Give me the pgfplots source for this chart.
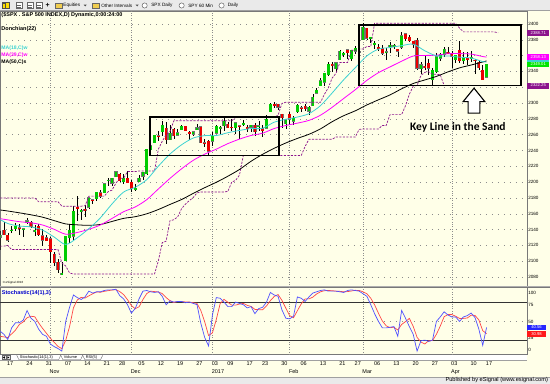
\documentclass[border=0pt]{standalone}
\usepackage{pgfplots}
\usepackage{pgfplotstable}
\pgfplotsset{compat=1.18}
\usepackage{fontspec}
\setmainfont{Liberation Sans}
\newfontfamily\carlito{Carlito}
\definecolor{cream}{RGB}{255,255,232}
\definecolor{tbgray}{RGB}{234,234,234}
\definecolor{cgreen}{RGB}{0,205,0}
\definecolor{cred}{RGB}{235,0,0}
\definecolor{macyan}{RGB}{60,210,210}
\definecolor{mamag}{RGB}{255,0,255}
\definecolor{dpurple}{RGB}{140,20,140}
\definecolor{stblue}{RGB}{80,80,255}
\definecolor{stred}{RGB}{255,70,70}
\definecolor{gridc}{RGB}{140,140,140}
\definecolor{sepc}{RGB}{120,120,120}
\definecolor{folder}{RGB}{240,205,80}
\newcommand{\fsz}[1]{\fontsize{#1}{#1}\selectfont}

\pgfplotstableread{
i o h l c
-2 2130.26 2138.19 2114.72 2132.55
1 2138.31 2144.38 2135.49 2139.60
2 2140.81 2148.44 2138.15 2144.29
4 2139.43 2142.63 2130.09 2141.16
5 2148.50 2154.79 2146.91 2151.33
7 2136.97 2145.73 2131.59 2139.43
14 2083.79 2099.07 2083.79 2085.18
15 2100.59 2132.00 2100.59 2131.52
16 2129.92 2146.87 2123.56 2139.56
17 2131.56 2170.10 2125.35 2163.26
19 2162.71 2165.92 2152.49 2164.45
21 2168.29 2180.84 2166.38 2180.39
23 2178.61 2188.06 2176.65 2187.12
25 2186.43 2198.70 2186.43 2198.18
26 2201.56 2204.80 2194.51 2202.94
27 2198.55 2204.72 2194.51 2204.72
28 2206.27 2213.35 2206.27 2213.35
30 2200.76 2210.46 2198.15 2204.66
33 2191.12 2197.95 2188.37 2191.95
34 2200.65 2209.42 2199.97 2204.71
35 2207.26 2212.78 2202.21 2212.23
36 2210.72 2241.63 2208.93 2241.35
37 2241.13 2251.69 2237.57 2246.19
38 2249.73 2259.80 2249.23 2259.53
40 2263.32 2277.53 2257.90 2271.72
42 2253.77 2272.12 2253.77 2262.03
44 2259.24 2267.02 2258.21 2262.53
45 2266.50 2272.56 2266.14 2270.76
48 2260.25 2263.79 2258.84 2263.79
49 2266.23 2273.82 2266.15 2268.88
53 2251.57 2263.88 2245.13 2257.83
54 2261.60 2272.82 2261.60 2270.75
55 2268.18 2271.50 2260.45 2269.00
56 2271.14 2282.10 2264.06 2276.98
59 2268.60 2275.32 2260.83 2275.32
61 2272.74 2278.68 2271.51 2274.64
63 2269.14 2272.01 2263.35 2271.89
65 2269.96 2276.96 2265.01 2271.31
67 2267.88 2284.63 2266.68 2280.07
68 2288.88 2299.55 2288.88 2298.37
72 2274.02 2279.09 2267.21 2278.87
74 2276.69 2283.97 2271.65 2280.85
75 2288.54 2298.31 2287.88 2297.42
78 2289.55 2295.91 2285.38 2294.67
79 2296.70 2311.08 2296.61 2307.87
80 2312.27 2319.23 2311.10 2316.10
81 2321.72 2331.58 2321.42 2328.25
82 2326.12 2337.58 2322.17 2337.58
83 2335.58 2351.30 2334.81 2349.25
85 2343.01 2351.16 2339.58 2351.16
86 2354.91 2366.71 2354.91 2365.38
87 2361.11 2365.13 2358.34 2362.82
89 2355.73 2367.34 2352.87 2367.34
90 2365.23 2371.54 2361.87 2369.75
92 2380.13 2400.98 2380.13 2395.96
94 2380.92 2383.89 2375.39 2383.12
95 2375.23 2378.80 2367.98 2375.31
98 2363.49 2369.08 2354.54 2364.87
99 2372.52 2376.86 2363.04 2372.60
100 2371.56 2374.42 2368.52 2373.47
102 2370.34 2390.01 2368.94 2385.26
107 2343.00 2351.81 2336.45 2348.45
110 2329.11 2344.90 2322.25 2341.59
111 2339.79 2363.78 2337.63 2358.57
112 2356.54 2363.36 2352.94 2361.13
113 2361.31 2370.42 2358.58 2368.06
116 2354.76 2360.53 2350.72 2360.16
118 2353.79 2364.16 2348.90 2357.49
120 2357.16 2366.37 2351.50 2357.16
124 2332.62 2349.14 2332.51 2349.01
}\gcandles

\pgfplotstableread{
i o h l c
-1 2139.68 2149.19 2132.98 2133.04
0 2132.95 2135.61 2124.43 2126.50
3 2142.51 2147.18 2133.44 2141.34
6 2149.72 2151.44 2141.93 2143.16
8 2144.06 2147.13 2132.52 2133.04
9 2132.23 2140.72 2119.36 2126.41
10 2129.78 2133.25 2125.53 2126.15
11 2128.68 2131.07 2097.85 2111.72
12 2109.43 2111.76 2094.00 2097.94
13 2098.80 2102.56 2085.23 2088.66
18 2167.49 2182.30 2151.17 2167.48
20 2165.64 2171.36 2156.08 2164.20
22 2177.53 2179.22 2172.20 2176.94
24 2186.85 2189.89 2180.38 2181.90
29 2210.21 2211.14 2200.36 2201.72
31 2204.97 2214.10 2198.81 2198.81
32 2200.17 2202.60 2187.44 2191.08
39 2258.83 2264.03 2252.37 2256.96
41 2268.35 2276.20 2248.44 2253.28
43 2266.81 2268.05 2254.24 2258.07
46 2270.54 2271.23 2265.15 2265.18
47 2262.93 2264.61 2252.74 2260.96
50 2270.23 2271.31 2249.11 2249.92
51 2249.50 2254.51 2244.56 2249.26
52 2251.61 2253.58 2233.62 2238.83
57 2273.59 2275.49 2268.90 2268.90
58 2269.72 2279.27 2265.27 2268.90
60 2271.14 2271.78 2254.25 2270.44
62 2269.14 2272.08 2262.81 2267.89
64 2271.90 2274.33 2258.41 2263.69
66 2267.78 2271.78 2257.02 2265.20
69 2298.63 2300.99 2294.08 2296.68
70 2299.02 2299.02 2291.62 2294.69
71 2286.01 2286.01 2268.04 2280.90
73 2285.59 2289.14 2272.44 2279.55
76 2294.28 2296.18 2288.57 2292.56
77 2295.87 2299.40 2290.16 2293.08
84 2349.64 2351.31 2338.87 2347.22
88 2367.50 2368.26 2355.09 2363.81
91 2366.08 2367.79 2358.96 2363.64
93 2394.75 2394.75 2380.17 2381.92
96 2370.74 2375.12 2365.51 2368.39
97 2369.81 2373.64 2361.01 2362.98
101 2368.55 2368.55 2358.18 2365.45
103 2387.71 2388.71 2377.94 2381.38
104 2383.71 2385.71 2377.64 2378.25
105 2378.24 2378.64 2369.66 2373.47
106 2379.32 2381.93 2341.90 2344.02
108 2345.97 2358.92 2342.13 2345.96
109 2350.42 2356.22 2335.74 2343.98
114 2364.82 2370.35 2362.60 2362.72
115 2362.34 2365.87 2344.73 2358.84
117 2366.59 2378.36 2350.52 2352.95
119 2356.59 2364.24 2348.69 2355.54
121 2353.92 2355.22 2337.25 2353.78
122 2352.15 2352.72 2341.18 2344.93
123 2341.98 2348.35 2328.95 2328.95
}\rcandles

\pgfplotstableread{
i v
-3 2155.4
0 2147.7
3 2144.5
6 2143.4
9 2139.4
12 2130.6
15 2121.2
18 2129.7
21 2141.2
24 2155.0
27 2172.5
30 2187.5
33 2193.5
36 2203.2
39 2220.2
42 2235.5
45 2247.2
48 2255.7
51 2258.8
54 2258.9
57 2262.5
60 2265.4
63 2267.7
66 2268.2
69 2275.8
72 2279.5
75 2282.3
78 2286.6
81 2296.8
84 2312.7
87 2329.5
90 2344.7
93 2359.6
96 2368.2
99 2370.2
102 2372.6
105 2374.4
108 2366.1
111 2359.7
114 2359.6
117 2358.0
120 2356.9
123 2352.4
124 2352.0
}\wmaA

\pgfplotstableread{
i v
-3 2154.6
0 2152.3
3 2150.0
6 2148.6
9 2145.8
12 2140.4
15 2134.2
18 2136.4
21 2140.4
24 2145.9
27 2154.1
30 2162.6
33 2168.6
36 2177.9
39 2191.4
42 2204.7
45 2216.8
48 2227.5
51 2235.4
54 2241.7
57 2248.7
60 2254.4
63 2259.0
66 2261.9
69 2267.8
72 2271.6
75 2274.6
78 2278.1
81 2284.7
84 2294.6
87 2305.8
90 2316.9
93 2328.7
96 2338.4
99 2345.7
102 2352.9
105 2359.4
108 2360.2
111 2360.5
114 2362.4
117 2362.5
120 2361.9
123 2358.8
124 2358.1
}\wmaB

\pgfplotstableread{
i v
-3 2165.5
0 2163.5
3 2161.2
6 2158.7
9 2155.7
12 2151.4
15 2147.2
18 2146.0
21 2145.4
24 2146.5
27 2150.3
30 2154.2
33 2156.3
36 2160.0
39 2165.4
42 2171.8
45 2178.0
48 2185.7
51 2193.0
54 2199.8
57 2207.5
60 2216.0
63 2226.4
66 2235.2
69 2242.8
72 2249.5
75 2255.3
78 2260.5
81 2267.4
84 2276.4
87 2284.0
90 2290.2
93 2297.6
96 2304.1
99 2310.3
102 2318.0
105 2324.7
108 2329.2
111 2333.7
114 2339.4
117 2344.5
120 2348.1
123 2351.9
124 2353.3
}\smaC

\pgfplotstableread{
i k d
-2 35 27
-1 30 26
0 22 25
1 40 30.7
2 48 36.7
3 48 45.3
4 52 49.3
5 67 55.7
6 55 58
7 50 57.3
8 38 47.7
9 30 39.3
10 27 31.7
11 15 24
12 11 17.7
13 8 11.3
14 4 7.7
15 50 20.7
16 72 42
17 91 71
18 87 83.3
19 84 87.3
20 88 86.3
21 97 89.7
22 94 93
23 96 95.7
24 96 95.3
25 98 96.7
26 99 97.7
27 99 98.7
28 100 99.3
29 90 96.3
30 85 91.7
31 76 83.7
32 63 74.7
33 70 69.7
34 85 72.7
35 97 84
36 98 93.3
37 96 97
38 95 96.3
39 96 95.7
40 89 93.3
41 76 87
42 82 82.3
43 80 79.3
44 81 81
45 81 80.7
46 79 80.3
47 80 80
48 78 79
49 76 78
50 47 67
51 25 49.3
52 12 28
53 60 32.3
54 87 53
55 86 77.7
56 80 84.3
57 73 79.7
58 73 75.3
59 80 75.3
60 78 77
61 76 78
62 71 75
63 73 73.3
64 62 68.7
65 70 68.3
66 72 68
67 80 74
68 95 82.3
69 91 88.7
70 89 91.7
71 68 82.7
72 55 70.7
73 54 59
74 58 55.7
75 88 66.7
76 86 77.3
77 81 85
78 88 85
79 94 87.7
80 96 92.7
81 98 96
82 99 97.7
83 97 98
84 97 97.7
85 97 97
86 96 96.7
87 95 96
88 98 96.3
89 99 97.3
90 98 98.3
91 97 98
92 93 96
93 89 93
94 76 86
95 62 75.7
96 50 62.7
97 40 50.7
98 40 43.3
99 41 40.3
100 42 41
101 27 36.7
102 67 45.3
103 55 49.7
104 42 54.7
105 30 42.3
106 4 25.3
107 20 18
108 21 15
109 19 20
110 21 20.3
111 50 30
112 57 42.7
113 65 57.3
114 60 60.7
115 57 60.7
116 57 58
117 50 54.7
118 57 54.7
119 59 55.3
120 63 59.7
121 56 59.3
122 38 52.3
123 13 35.7
124 40.56 30.98
}\stoch

\begin{document}
\begin{tikzpicture}[x=1pt,y=1pt]
\fill[cream] (0pt,0pt) rectangle (550pt,384pt);
% ---------- main price panel ----------
\begin{axis}[at={(0pt,96.7pt)}, anchor=south west, scale only axis,
  width=527pt, height=276.3pt,
  xmin=-1.94, xmax=134.41, ymin=2067.4, ymax=2416.4,
  axis line style={sepc, line width=0.5pt}, major tick length=0pt, xtick=\empty,
  ytick={2080,2100,...,2400},
  yticklabels={2080,2100,2120,2140,2160,2180,2200,2220,2240,2260,2280,2300,,2340,,2380,2400},
  yticklabel pos=right,
  yticklabel style={font=\fsz{4.6}, anchor=west, inner sep=1.3pt},
  ymajorgrids, major grid style={gridc, line width=0.45pt, dash pattern=on 0.6pt off 5.4pt}]
\pgfplotsinvokeforeach{11,32,53,73,92,115}{\draw[gridc, line width=0.45pt, dash pattern=on 0.6pt off 1.8pt] (axis cs:#1,2067.4) -- (axis cs:#1,2416.4);}
% wicks
\addplot[draw=none, forget plot, error bars/.cd, y dir=both, y explicit, error mark=none,
  error bar style={draw=black, line width=0.5pt}]
  table[x=i, y expr=(\thisrow{h}+\thisrow{l})/2, y error expr=(\thisrow{h}-\thisrow{l})/2] {\gcandles};
\addplot[draw=none, forget plot, error bars/.cd, y dir=both, y explicit, error mark=none,
  error bar style={draw=black, line width=0.5pt}]
  table[x=i, y expr=(\thisrow{h}+\thisrow{l})/2, y error expr=(\thisrow{h}-\thisrow{l})/2] {\rcandles};
% bodies
\addplot[draw=none, forget plot, error bars/.cd, y dir=both, y explicit, error mark=none,
  error bar style={draw=black!55, line width=3.2pt}]
  table[x=i, y expr=(\thisrow{o}+\thisrow{c})/2, y error expr={max(abs(\thisrow{c}-\thisrow{o})/2,0.6)+0.35}] {\gcandles};
\addplot[draw=none, forget plot, error bars/.cd, y dir=both, y explicit, error mark=none,
  error bar style={draw=cgreen, line width=2.6pt}]
  table[x=i, y expr=(\thisrow{o}+\thisrow{c})/2, y error expr={max(abs(\thisrow{c}-\thisrow{o})/2,0.6)}] {\gcandles};
\addplot[draw=none, forget plot, error bars/.cd, y dir=both, y explicit, error mark=none,
  error bar style={draw=black!55, line width=3.2pt}]
  table[x=i, y expr=(\thisrow{o}+\thisrow{c})/2, y error expr={max(abs(\thisrow{c}-\thisrow{o})/2,0.6)+0.35}] {\rcandles};
\addplot[draw=none, forget plot, error bars/.cd, y dir=both, y explicit, error mark=none,
  error bar style={draw=cred, line width=2.6pt}]
  table[x=i, y expr=(\thisrow{o}+\thisrow{c})/2, y error expr={max(abs(\thisrow{c}-\thisrow{o})/2,0.6)}] {\rcandles};
% Donchian(22), displaced 3 bars
\addplot[dpurple, line width=0.7pt, dash pattern=on 2.2pt off 1.3pt] coordinates {
(-2,2179.99)(7,2179.99)(8,2175.30)(13,2175.30)(14,2169.60)(19,2169.60)(20,2170.10)(21,2182.30)(25,2182.30)(26,2188.06)(27,2189.89)(28,2198.70)(29,2204.80)(30,2204.80)(31,2213.35)(33,2213.35)(34,2214.10)(38,2214.10)(39,2241.63)(40,2251.69)(41,2259.80)(42,2264.03)(43,2277.53)(58,2277.53)(59,2282.10)(69,2282.10)(70,2284.63)(71,2299.55)(72,2300.99)(81,2300.99)(82,2311.08)(83,2319.23)(84,2331.58)(85,2337.58)(86,2351.30)(88,2351.31)(89,2366.71)(90,2366.71)(91,2368.26)(92,2368.26)(93,2371.54)(94,2371.54)(95,2400.98)(116,2400.98)(117,2394.75)(118,2390.01)(126,2390.01)(127,2388.71)};
\addplot[dpurple, line width=0.7pt, dash pattern=on 2.2pt off 1.3pt] coordinates {
(-2,2119.12)(-1,2119.12)(0,2119.90)(1,2114.72)(13,2114.72)(14,2097.85)(15,2094.00)(16,2085.23)(17,2083.79)(38,2083.79)(39,2100.59)(40,2123.56)(41,2125.35)(42,2151.17)(43,2152.49)(44,2156.08)(45,2166.38)(46,2172.20)(47,2176.65)(48,2180.38)(49,2186.43)(50,2187.44)(56,2187.44)(57,2188.37)(58,2199.97)(59,2202.21)(60,2208.93)(61,2233.62)(76,2233.62)(77,2245.13)(78,2254.25)(84,2254.25)(85,2257.02)(90,2257.02)(91,2266.68)(92,2267.21)(96,2267.21)(97,2271.65)(98,2271.65)(99,2285.38)(102,2285.38)(103,2296.61)(104,2311.10)(105,2321.42)(106,2322.17)(107,2334.81)(108,2338.87)(109,2339.58)(110,2336.45)(111,2336.45)(112,2335.74)(113,2322.25)(127,2322.25)};
% moving averages
\addplot[black, line width=0.8pt, smooth] table[x=i, y=v] {\smaC};
\addplot[mamag, line width=0.8pt, smooth] table[x=i, y=v] {\wmaB};
\addplot[macyan, line width=0.8pt, smooth] table[x=i, y=v] {\wmaA};
% boxes
\draw[black, line width=1.8pt] (axis cs:36.87,2233.7) rectangle (axis cs:70.32,2282.2);
\draw[black, line width=1.8pt] (axis cs:90.94,2322.1) rectangle (axis cs:132.86,2398.7);
\end{axis}

% ---------- stochastic panel ----------
\begin{axis}[at={(0pt,29pt)}, anchor=south west, scale only axis,
  width=527pt, height=67.7pt,
  xmin=-1.94, xmax=134.41, ymin=-1.55, ymax=103.4,
  axis line style={sepc, line width=0.5pt}, major tick length=0pt,
  ytick={6,25,50,75,94}, yticklabels={0,25,50,75,100}, yticklabel pos=right,
  yticklabel style={font=\fsz{4.6}, anchor=west, inner sep=1.3pt},
  xtick={0,5,10,15,20,25,29,34,39,44,49,53,57,62,66,71,76,81,86,90,95,100,105,110,115,120,124},
  xticklabels={17,24,31,07,14,21,28,05,12,19,27,03,09,17,23,30,06,13,21,27,06,13,20,27,03,10,17},
  xticklabel style={font=\fsz{5.5}, anchor=north west, inner sep=0pt, xshift=-0.8pt, yshift=-7.3pt},
  clip mode=individual]
\pgfplotsinvokeforeach{11,32,53,73,92,115}{\draw[gridc, line width=0.45pt, dash pattern=on 0.6pt off 1.8pt] (axis cs:#1,-1.55) -- (axis cs:#1,103.4);}
\draw[gridc, line width=0.45pt, dash pattern=on 0.6pt off 5.4pt] (axis cs:-1.94,50) -- (axis cs:134.41,50);
\draw[black!80, line width=0.6pt] (axis cs:-1.94,80) -- (axis cs:134.41,80);
\draw[black!80, line width=0.6pt] (axis cs:-1.94,20) -- (axis cs:134.41,20);
\addplot[stred, line width=0.7pt] table[x=i, y=d] {\stoch};
\addplot[stblue, line width=0.7pt] table[x=i, y=k] {\stoch};
\end{axis}

% ---------- toolbar ----------
\fill[tbgray] (0,373.3) rectangle (550,384);
\draw[sepc!70, line width=0.4pt] (0,373.3) -- (550,373.3);
\fill[black!70] (2,375.2) rectangle (9.5,382); \fill[yellow!80!orange] (3.2,376.3) rectangle (5,379.5); \fill[yellow!80!orange] (6,376.3) rectangle (8.3,380.8);
\foreach \xx in {16,27,35.5}{\draw[black!60, line width=0.4pt, fill=white] (\xx,375.3) rectangle (\xx+6,381.8); \draw[black!60, line width=0.4pt] (\xx+1.2,377.2)--(\xx+4.8,377.2) (\xx+1.2,379)--(\xx+4.8,379);}
\node[font=\bfseries\fsz{7}, inner sep=0] at (47.5,378.5) {+};
\foreach \xx in {55,92}{\draw[black!60, line width=0.35pt, fill=folder] (\xx,375.5) rectangle (\xx+6.5,381);}
\node[anchor=west, inner sep=0, font=\fsz{4.7}] at (63,378.5) {Equities};
\node[anchor=west, inner sep=0, font=\fsz{4.7}] at (101,378.5) {Other Intervals};
\fill[black!70] (83.5,379.3) -- (86.5,379.3) -- (85,377.6) -- cycle;
\fill[black!70] (135.5,379.3) -- (138.5,379.3) -- (137,377.6) -- cycle;
\foreach \xx in {144.5,181.5,221.5}{\draw[black!65, line width=0.45pt, fill=white] (\xx,378.5) circle (2.6);}
\node[anchor=west, inner sep=0, font=\fsz{4.7}] at (151,378.5) {SPX Daily};
\node[anchor=west, inner sep=0, font=\fsz{4.7}] at (188,378.5) {SPY 60 Min};
\node[anchor=west, inner sep=0, font=\fsz{4.7}] at (227.5,378.5) {Daily};

% ---------- frame lines ----------
\draw[sepc!60, line width=0.4pt] (0,97.6) -- (550,97.6);
\draw[sepc, line width=0.5pt] (527,96.7) -- (550,96.7);
% tab row
\fill[white] (0,23.6) rectangle (527,28.7);
\draw[sepc!70, line width=0.4pt] (0,23.6) -- (527,23.6);
\draw[black!60, line width=0.3pt, fill=tbgray] (1.5,24.2) rectangle (5.5,28.2);
\draw[black!60, line width=0.3pt, fill=tbgray] (6,24.2) rectangle (10,28.2);
\fill[black] (2.5,26.2) -- (4.5,27.4) -- (4.5,25) -- cycle;
\fill[black] (9,26.2) -- (7,27.4) -- (7,25) -- cycle;
\draw[black!70, line width=0.3pt] (16.5,28.4) -- (18.5,24.2) -- (58.5,24.2) -- (60.5,28.4);
\draw[black!70, line width=0.3pt] (60.5,28.4) -- (62.5,24.2) -- (80.5,24.2) -- (82.5,28.4);
\draw[black!70, line width=0.3pt] (82.5,28.4) -- (84.5,24.2) -- (100.5,24.2) -- (102.5,28.4);
\node[anchor=west, inner sep=0, font=\fsz{3.9}] at (19.5,26.3) {Stochastic(14(1),3)};
\node[anchor=west, inner sep=0, font=\fsz{3.9}] at (63.5,26.3) {Volume};
\node[anchor=west, inner sep=0, font=\fsz{3.9}] at (85.5,26.3) {RSI(5)};
% month labels
\foreach \ii/\nn in {11/Nov,32/Dec,53/2017,73/Feb,92/Mar,115/Apr}{
  \pgfmathsetmacro{\xx}{7.5+3.865*\ii-0.8}
  \node[anchor=north west, inner sep=0, font=\fsz{5.5}] at (\xx,13.9) {\nn};}
% published strip
\fill[tbgray] (0,0) rectangle (550,6.8);
\draw[sepc!70, line width=0.4pt] (0,6.8) -- (550,6.8);
\node[anchor=east, inner sep=0, font=\fsz{5.7}] at (548.5,3.3) {Published by eSignal (www.esignal.com)};

% ---------- panel titles ----------
\node[anchor=west, inner sep=0, font=\bfseries\fsz{5.5}] at (1,369) {(\$SPX . S\&P 500 INDEX,D) Dynamic,0:00:24:00};
\node[anchor=west, inner sep=0, font=\bfseries\fsz{5.5}] at (1,355) {Donchian(22)};
\node[anchor=west, inner sep=0, font=\bfseries\fsz{5.1}, text=macyan] at (1,335.5) {MA(18,C)w};
\node[anchor=west, inner sep=0, font=\bfseries\fsz{5.1}, text=mamag] at (1,328.3) {MA(39,C)w};
\node[anchor=west, inner sep=0, font=\bfseries\fsz{5.1}] at (1,321.3) {MA(50,C)s};
\node[anchor=west, inner sep=0, font=\fsz{3}] at (2.5,100.5) {\textcopyright\,eSignal 2016};
\node[anchor=west, inner sep=0, font=\bfseries\fsz{5.5}, text=blue!80!black] at (1.5,90.7) {Stochastic(14(1),3)};

% ---------- annotation ----------
\draw[black, line width=1.1pt, fill=white] (474.2,295.7) -- (485,282.3) -- (480,282.3) -- (480,270.7) -- (468.3,270.7) -- (468.3,282.3) -- (463.3,282.3) -- cycle;
\node[font=\carlito\bfseries\fsz{11.5}, inner sep=0] at (458,256.5) {Key Line in the Sand};

% ---------- value tags ----------
\fill[dpurple] (527.6,348.1) rectangle (549.5,354.1);
\node[text=white, font=\fsz{4.2}, inner sep=0] at (538.5,351.1) {2388.71};
\fill[macyan] (527.6,318.9) rectangle (549.5,324.9);
\fill[mamag] (527.6,324.0) rectangle (549.5,330.0);
\node[text=white, font=\fsz{4.2}, inner sep=0] at (538.5,327.0) {2358.13};
\fill[green!90!black] (527.6,316.6) rectangle (549.5,322.3);
\node[text=white, font=\fsz{4.2}, inner sep=0] at (538.5,319.5) {2349.01};
\fill[dpurple] (527.6,295.4) rectangle (549.5,301.4);
\node[text=white, font=\fsz{4.2}, inner sep=0] at (538.5,298.4) {2322.25};
\fill[blue!85!white] (527.6,53.3) rectangle (546,59.1);
\node[text=white, font=\fsz{4.2}, inner sep=0] at (536.8,56.2) {40.56};
\fill[red!90!white] (527.6,47.1) rectangle (546,52.9);
\node[text=white, font=\fsz{4.2}, inner sep=0] at (536.8,50) {30.98};
\end{tikzpicture}
\end{document}
